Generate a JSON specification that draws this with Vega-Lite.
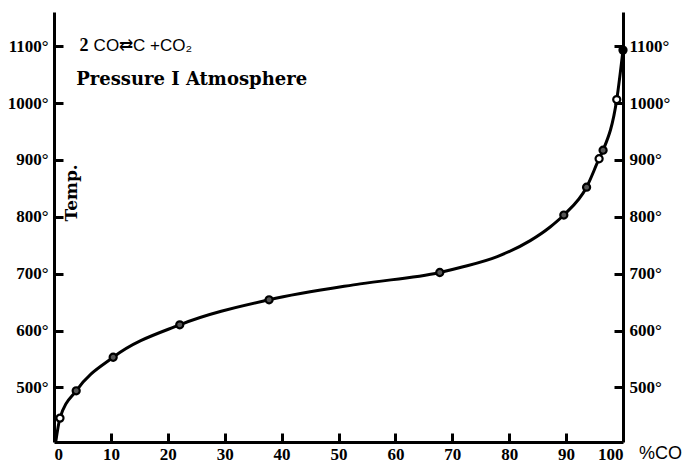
{
  "$schema": "https://vega.github.io/schema/vega-lite/v6.json",
  "autosize": {"type": "none"},
  "width": 569,
  "height": 430,
  "padding": {"left": 54, "top": 12, "right": 61, "bottom": 25},
  "background": "white",
  "config": {
    "view": {"stroke": null},
    "font": "Liberation Serif",
    "axis": {
      "domainColor": "black", "domainWidth": 3, "ticks": false,
      "grid": false, "labelFont": "Liberation Serif", "labelFontWeight": "bold",
      "labelFontSize": 17, "labelColor": "black", "title": null
    }
  },
  "datasets": {
    "curve": [
      {"co": 0.3, "temp": 404}, {"co": 1.05, "temp": 446}, {"co": 3.9, "temp": 494},
      {"co": 10.4, "temp": 553}, {"co": 22.1, "temp": 610}, {"co": 37.8, "temp": 654},
      {"co": 53.8, "temp": 682}, {"co": 67.8, "temp": 702}, {"co": 71.9, "temp": 712},
      {"co": 77.9, "temp": 730}, {"co": 83.7, "temp": 758}, {"co": 87.2, "temp": 782},
      {"co": 89.6, "temp": 803}, {"co": 93.6, "temp": 852}, {"co": 95.8, "temp": 902},
      {"co": 96.5, "temp": 917}, {"co": 98.9, "temp": 1006}, {"co": 100, "temp": 1093}
    ],
    "obs": [
      {"co": 1.05, "temp": 446, "kind": "open"}, {"co": 3.9, "temp": 494, "kind": "dot"},
      {"co": 10.4, "temp": 553, "kind": "dot"}, {"co": 22.1, "temp": 610, "kind": "dot"},
      {"co": 37.8, "temp": 654, "kind": "dot"}, {"co": 67.8, "temp": 702, "kind": "dot"},
      {"co": 89.6, "temp": 803, "kind": "dot"}, {"co": 93.6, "temp": 852, "kind": "dot"},
      {"co": 95.8, "temp": 902, "kind": "open"}, {"co": 96.5, "temp": 917, "kind": "dot"},
      {"co": 98.9, "temp": 1006, "kind": "open"}, {"co": 100, "temp": 1093, "kind": "filled"}
    ]
  },
  "layer": [
    {
      "data": {"name": "curve"},
      "mark": {"type": "line", "interpolate": "monotone", "color": "black", "strokeWidth": 3},
      "encoding": {
        "x": {"field": "co", "type": "quantitative", "scale": {"domain": [0, 100], "nice": false},
          "axis": {"values": [0,10,20,30,40,50,60,70,80,90,100], "labelPadding": 4, "labelFontSize": 17}},
        "y": {"field": "temp", "type": "quantitative", "scale": {"domain": [404, 1160], "nice": false, "zero": false},
          "axis": {"orient": "left", "values": [500,600,700,800,900,1000,1100], "labelPadding": 6,
            "labelExpr": "datum.value + '°'"}}
      }
    },
    {
      "data": {"name": "curve"},
      "mark": {"type": "line", "opacity": 0},
      "encoding": {
        "x": {"field": "co", "type": "quantitative", "axis": null},
        "y": {"field": "temp", "type": "quantitative",
          "axis": {"orient": "right", "values": [500,600,700,800,900,1000,1100], "labelPadding": 6,
            "labelExpr": "datum.value + '°'"}}
      }
    },
    {
      "data": {"name": "curve"},
      "mark": {"type": "line", "opacity": 0},
      "encoding": {
        "x": {"field": "co", "type": "quantitative",
          "axis": {"orient": "bottom", "values": [10,20,30,40,50,60,70,80,90], "offset": -9, "domain": false, "labels": false, "ticks": true, "tickSize": 9, "tickWidth": 3, "tickColor": "black"}},
        "y": {"field": "temp", "type": "quantitative",
          "axis": {"orient": "left", "values": [500,600,700,800,900,1000,1100], "offset": -9, "domain": false, "labels": false, "ticks": true, "tickSize": 9, "tickWidth": 3, "tickColor": "black"}}
      }
    },
    {
      "data": {"name": "curve"},
      "mark": {"type": "line", "opacity": 0},
      "encoding": {
        "x": {"field": "co", "type": "quantitative", "axis": null},
        "y": {"field": "temp", "type": "quantitative",
          "axis": {"orient": "right", "values": [500,600,700,800,900,1000,1100], "offset": -9, "domain": false, "labels": false, "ticks": true, "tickSize": 9, "tickWidth": 3, "tickColor": "black"}}
      }
    },
    {
      "data": {"name": "obs"},
      "mark": {"type": "point", "shape": "circle", "size": 50, "strokeWidth": 2.2, "stroke": "black", "opacity": 1},
      "encoding": {
        "x": {"field": "co", "type": "quantitative", "axis": null},
        "y": {"field": "temp", "type": "quantitative", "axis": null},
        "fill": {"field": "kind", "type": "nominal", "scale": {"domain": ["open", "dot", "filled"], "range": ["white", "#555555", "black"]}, "legend": null},
        "fillOpacity": {"value": 1}
      }
    },
    {
      "data": {"values": [{"co": 4.5, "temp": 1100, "label": "2"}]},
      "mark": {"type": "text", "align": "left", "baseline": "middle", "font": "Liberation Serif", "fontWeight": "bold", "fontSize": 18, "color": "black"},
      "encoding": {
        "x": {"field": "co", "type": "quantitative", "axis": null},
        "y": {"field": "temp", "type": "quantitative", "axis": null},
        "text": {"field": "label"}
      }
    },
    {
      "data": {"values": [{"co": 4.5, "temp": 1100, "label": "CO⇄C +CO₂"}]},
      "mark": {"type": "text", "align": "left", "baseline": "middle", "dx": 14, "font": "Liberation Sans", "fontSize": 17, "color": "black"},
      "encoding": {
        "x": {"field": "co", "type": "quantitative", "axis": null},
        "y": {"field": "temp", "type": "quantitative", "axis": null},
        "text": {"field": "label"}
      }
    },
    {
      "data": {"values": [{"co": 3.9, "temp": 1041, "label": "Pressure I  Atmosphere"}]},
      "mark": {"type": "text", "align": "left", "baseline": "middle", "font": "DejaVu Serif", "fontWeight": "bold", "fontSize": 18, "color": "black"},
      "encoding": {
        "x": {"field": "co", "type": "quantitative", "axis": null},
        "y": {"field": "temp", "type": "quantitative", "axis": null},
        "text": {"field": "label"}
      }
    },
    {
      "data": {"values": [{"co": 3.2, "temp": 842, "label": "Temp."}]},
      "mark": {"type": "text", "angle": 270, "align": "center", "baseline": "middle", "font": "DejaVu Serif", "fontWeight": "bold", "fontSize": 17, "color": "black"},
      "encoding": {
        "x": {"field": "co", "type": "quantitative", "axis": null},
        "y": {"field": "temp", "type": "quantitative", "axis": null},
        "text": {"field": "label"}
      }
    },
    {
      "data": {"values": [{"co": 100, "temp": 404, "label": "%CO"}]},
      "mark": {"type": "text", "align": "left", "baseline": "middle", "dx": 16, "dy": 12, "font": "Liberation Sans", "fontSize": 18, "color": "black"},
      "encoding": {
        "x": {"field": "co", "type": "quantitative", "axis": null},
        "y": {"field": "temp", "type": "quantitative", "axis": null},
        "text": {"field": "label"}
      }
    }
  ],
  "resolve": {"axis": {"x": "independent", "y": "independent"}}
}
